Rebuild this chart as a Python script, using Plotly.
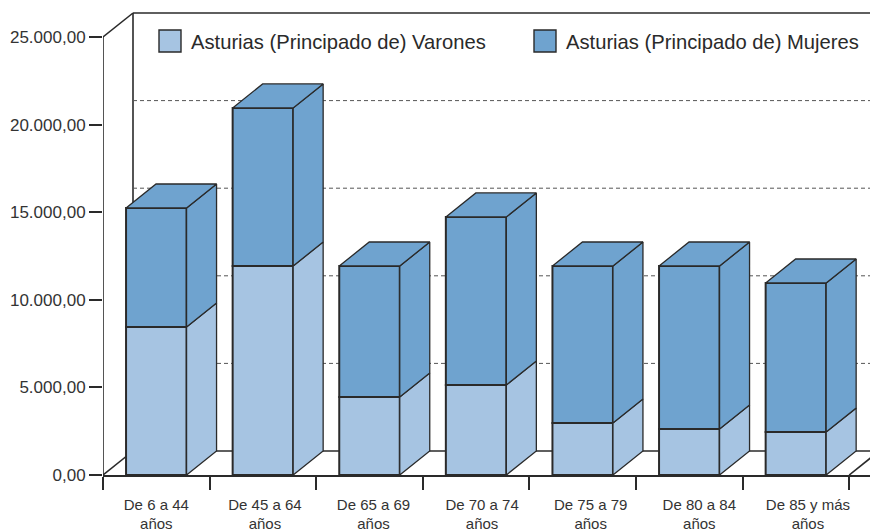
import plotly.graph_objects as go

categories = ["De 6 a 44<br>años", "De 45 a 64<br>años", "De 65 a 69<br>años", "De 70 a 74<br>años",
              "De 75 a 79<br>años", "De 80 a 84<br>años", "De 85 y más<br>años"]
varones = [8450, 11930, 4450, 5140, 2970, 2630, 2450]
mujeres = [6790, 9020, 7480, 9590, 8960, 9300, 8510]
y_ticks = [0, 5000, 10000, 15000, 20000, 25000]
y_labels = ["0,00", "5.000,00", "10.000,00", "15.000,00", "20.000,00", "25.000,00"]
series_names = ["Asturias (Principado de) Varones", "Asturias (Principado de) Mujeres"]

W, H = 870, 532
L, T, B = 103, 12, 57
PX_CAT = 106.6
LABEL_PITCH = 108.6 / PX_CAT
PX_VAL = 87.6 / 5000
plot_w, plot_h = W - L, H - T - B
x_max = -0.5 + plot_w / PX_CAT
y_max = plot_h / PX_VAL
DX = 30 / PX_CAT
DY = 24 / PX_VAL
BAR_W = 60.5 / PX_CAT

LIGHT, DARK = "#A6C4E2", "#6FA3CF"
INK = "#2a2a2a"
FONT = "Liberation Sans"
xs = list(range(len(categories)))

fig = go.Figure()
for name, vals, colour, base in [
    (series_names[0], varones, LIGHT, [0] * len(xs)),
    (series_names[1], mujeres, DARK, varones),
]:
    fig.add_trace(go.Bar(x=xs, y=vals, base=base, name=name, width=BAR_W, showlegend=False,
                         marker=dict(color=colour, line=dict(color=INK, width=2))))


def face(px, py, colour):
    fig.add_trace(go.Scatter(x=px, y=py, mode="lines", fill="toself", fillcolor=colour,
                             line=dict(color=INK, width=1.3), showlegend=False, hoverinfo="skip"))


for i, (v, m) in enumerate(zip(varones, mujeres)):
    r = i + BAR_W / 2
    l = i - BAR_W / 2
    t = v + m
    face([r, r + DX, r + DX, r, r], [0, DY, v + DY, v, 0], LIGHT)
    face([r, r + DX, r + DX, r, r], [v, v + DY, t + DY, t, v], DARK)
    face([l, l + DX, r + DX, r, l], [t, t + DY, t + DY, t, t], DARK)

x0 = -0.5
wall = dict(color=INK, width=1.6)
shapes = []


def seg(xa, ya, xb, yb, line=wall):
    shapes.append(dict(type="line", xref="x", yref="y", x0=xa, y0=ya, x1=xb, y1=yb, line=line, layer="below"))


seg(x0, 0, x0, y_ticks[-1])
seg(x0, 0, x0 + DX, DY)
seg(x0, y_ticks[-1], x0 + DX, y_ticks[-1] + DY)
seg(x0 + DX, DY, x0 + DX, y_ticks[-1] + DY)
seg(x0 + DX, DY, x_max, DY)
seg(x0 + DX, y_ticks[-1] + DY, x_max, y_ticks[-1] + DY)
seg(len(xs) - 0.5, 0, len(xs) - 0.5 + DX, DY)
for v in y_ticks[1:-1]:
    seg(x0 + DX, v + DY, x_max, v + DY, dict(color="#555555", width=1, dash="4px,3px"))


def px_x(p):
    return (p - L) / plot_w


def px_y(p):
    return (H - B - p) / plot_h


annotations = []
for name, colour, sx, tx in [(series_names[0], LIGHT, 159, 190), (series_names[1], DARK, 534, 565)]:
    shapes.append(dict(type="rect", xref="paper", yref="paper", x0=px_x(sx), x1=px_x(sx + 22),
                       y0=px_y(52), y1=px_y(30), fillcolor=colour, line=dict(color=INK, width=1.4)))
    annotations.append(dict(xref="paper", yref="paper", x=px_x(tx), y=px_y(42), text=name, showarrow=False,
                            xanchor="left", yanchor="middle", xshift=-1,
                            font=dict(family=FONT, size=20.2, color="#2a2a2a")))

fig.update_layout(
    width=W, height=H, autosize=False, barmode="overlay", template=None,
    paper_bgcolor="white", plot_bgcolor="white",
    margin=dict(l=L, r=0, t=T, b=B, pad=0), showlegend=False,
    shapes=shapes, annotations=annotations,
    font=dict(family=FONT, color="#333333"),
    xaxis=dict(range=[x0, x_max], showgrid=False, zeroline=False, showline=True, linecolor=INK, linewidth=1.6,
               tickmode="array", tickvals=[i * LABEL_PITCH for i in xs], ticktext=categories, ticks="outside",
               ticklen=15, tickcolor="rgba(0,0,0,0)", tickfont=dict(size=15, family=FONT, color="#333333"),
               tickangle=0,
               minor=dict(tickmode="array", tickvals=[i - 0.5 for i in range(len(xs) + 1)], ticks="outside",
                          ticklen=13, tickwidth=1.5, tickcolor=INK, showgrid=False)),
    yaxis=dict(range=[0, y_max], showgrid=False, zeroline=False, showline=False,
               tickmode="array", tickvals=y_ticks, ticktext=y_labels, ticks="outside", ticklen=13,
               tickwidth=1.5, tickcolor=INK, tickfont=dict(size=17, family=FONT, color="#333333")),
)
fig.write_html("out.html", config={"displayModeBar": False},
               post_script="document.body.style.margin='0';document.documentElement.style.overflow='hidden';")
